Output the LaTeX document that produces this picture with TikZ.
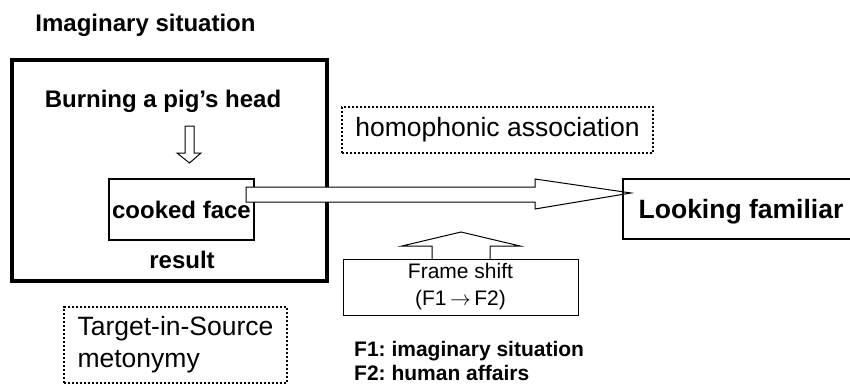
\documentclass[tikz,border=0pt]{standalone}
\usepackage{fontspec}
\setmainfont{Liberation Sans}
\usetikzlibrary{calc}
\frenchspacing
\tikzset{
  boldtxt/.style={font=\fontsize{24}{28}\selectfont\bfseries, inner sep=0pt},
  plainbox/.style={draw, line width=1.2pt, inner sep=0pt},
  dotbox/.style={draw, line width=2.2pt, dash pattern=on 2.2pt off 1.8pt, inner sep=0pt},
  blockarrow/.style={draw, line width=1pt, fill=white, line join=miter},
}
\begin{document}
\begin{tikzpicture}[x=1pt,y=-1pt]
\useasboundingbox (0,0) rectangle (850,385);

% frame of the imaginary situation
\node[boldtxt] (title) at (145.5,25) {Imaginary situation};
\node[draw, line width=4pt, inner sep=0pt, minimum width=315pt, minimum height=221pt] (outer) at (169.5,170.5) {};
\node[boldtxt] (burn) at (163,101) {Burning a pig’s head};
\node[plainbox, minimum width=145pt, minimum height=61pt] (cooked) at (181.5,209.5) {};
\node[boldtxt] (cookedtxt) at (181.5,210) {cooked face};
\node[boldtxt] (result) at (182,260) {result};

% small hollow arrow from the event to its result
\coordinate (dtop) at (189.5,126);
\coordinate (dtip) at (189.5,163);
\draw[blockarrow] ($(dtop)+(-4.5,0)$) -- ($(dtop)+(4.5,0)$) -- ($(dtip)+(4.5,-10)$)
  -- ($(dtip)+(11.5,-10)$) -- (dtip) -- ($(dtip)+(-12.5,-10)$) -- ($(dtip)+(-4.5,-10)$) -- cycle;

% labels in dotted boxes
\node[dotbox, minimum width=311pt, minimum height=46pt, font=\fontsize{26.5}{30}\selectfont] (homo) at (497.5,130)
  {homophonic association};
\node[dotbox, minimum width=223pt, minimum height=76pt, align=left, font=\fontsize{26.5}{32}\selectfont] (tis) at (175.5,345)
  {Target-in-Source\\metonymy};

% big hollow arrow to the target meaning
\coordinate (bstart) at (246,194.5);
\coordinate (btip) at (631,193);
\draw[blockarrow] ($(bstart)+(0,-7.5)$) -- (535,187) -- (535,179) -- (btip)
  -- (535,209) -- (535,202) -- ($(bstart)+(0,7.5)$) -- cycle;

\node[draw, line width=1.2pt, inner sep=0pt, minimum width=228pt, minimum height=60pt] (look) at (737,209) {};
\node[inner sep=0pt, font=\fontsize{26.5}{30}\selectfont\bfseries] (looktxt) at (741,212) {Looking familiar};

% frame shift box with its upward arrow
\node[plainbox, line width=1pt, minimum width=235pt, minimum height=56pt, align=center, font=\fontsize{21}{27}\selectfont] (shift) at (460.5,287)
  {Frame shift\\(F1\,$\rightarrow$\,F2)};
\coordinate (utip) at (461,232);
\draw[line width=1pt, line join=miter] (432,259) -- (432,246) -- (402,246) -- (utip)
  -- (520,246) -- (490,246) -- (490,259);

\node[anchor=west, align=left, inner sep=0pt, font=\fontsize{21}{24}\selectfont\bfseries] (legend) at (354,361)
  {F1: imaginary situation\\F2: human affairs};
\end{tikzpicture}
\end{document}
